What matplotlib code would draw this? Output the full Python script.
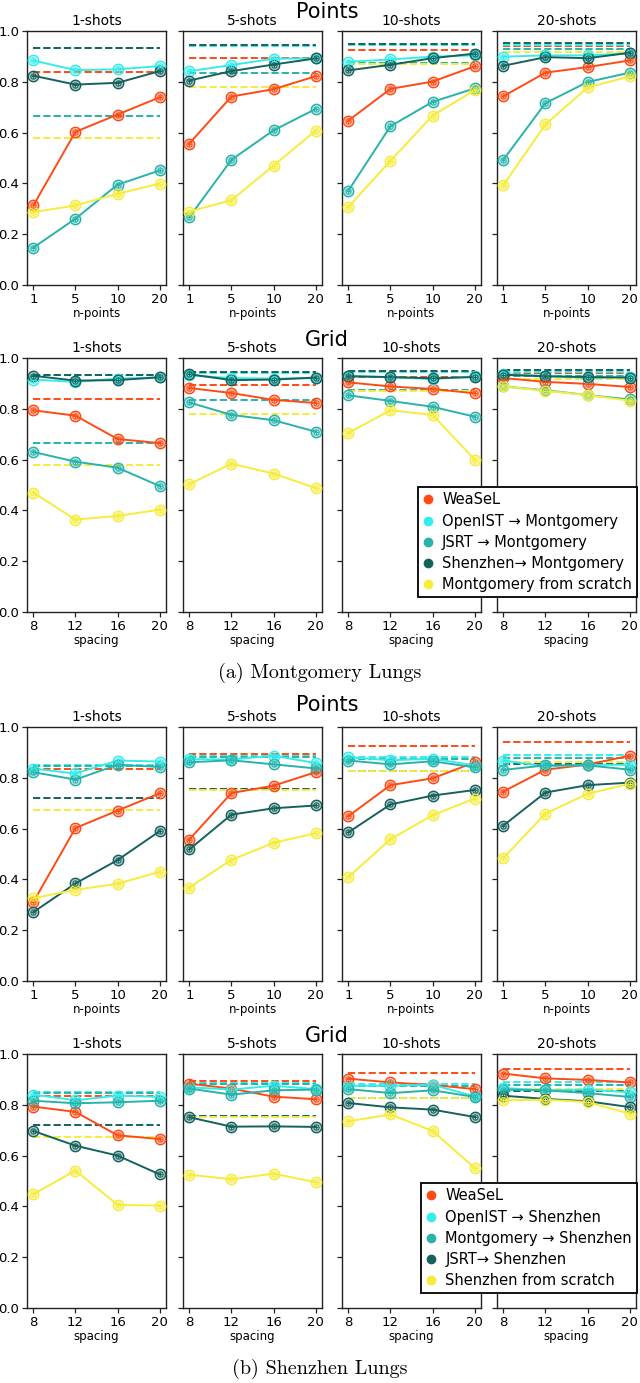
import matplotlib
matplotlib.use("Agg")
import matplotlib.pyplot as plt
from matplotlib.colors import to_rgba
from matplotlib.lines import Line2D

# x categories
POINT_TICKS = ["1", "5", "10", "20"]
GRID_TICKS = ["8", "12", "16", "20"]
SHOTS = ["1-shots", "5-shots", "10-shots", "20-shots"]

# colours (legend order)
C_WEASEL = "#ff4a14"
C_OPENIST = "#36ecea"
C_MID = "#27b3ab"
C_DARK = "#15625c"
C_SCRATCH = "#f6ec3a"

MONT_LABELS = ["WeaSeL", "OpenIST → Montgomery", "JSRT → Montgomery",
               "Shenzhen→ Montgomery", "Montgomery from scratch"]
SHEN_LABELS = ["WeaSeL", "OpenIST → Shenzhen", "Montgomery → Shenzhen",
               "JSRT→ Shenzhen", "Shenzhen from scratch"]

# ---- Montgomery, points (one row per shot setting) ----
MP_WEASEL = [[0.313, 0.603, 0.671, 0.739], [0.557, 0.742, 0.771, 0.822],
             [0.647, 0.772, 0.801, 0.861], [0.743, 0.836, 0.858, 0.884]]
MP_OPENIST = [[0.884, 0.846, 0.849, 0.862], [0.842, 0.866, 0.891, 0.892],
              [0.879, 0.888, 0.899, 0.904], [0.899, 0.904, 0.904, 0.912]]
MP_JSRT = [[0.147, 0.261, 0.395, 0.451], [0.267, 0.493, 0.609, 0.693],
           [0.371, 0.625, 0.721, 0.774], [0.493, 0.716, 0.799, 0.836]]
MP_SHENZHEN = [[0.824, 0.789, 0.796, 0.842], [0.805, 0.842, 0.868, 0.892],
               [0.845, 0.867, 0.893, 0.911], [0.863, 0.897, 0.893, 0.914]]
MP_SCRATCH = [[0.287, 0.313, 0.359, 0.399], [0.289, 0.334, 0.470, 0.608],
              [0.307, 0.489, 0.667, 0.767], [0.393, 0.632, 0.778, 0.821]]

# ---- Montgomery, grid ----
MG_WEASEL = [[0.794, 0.773, 0.681, 0.665], [0.882, 0.862, 0.835, 0.823],
             [0.904, 0.888, 0.878, 0.861], [0.921, 0.906, 0.898, 0.886]]
MG_OPENIST = [[0.915, 0.906, 0.919, 0.924], [0.932, 0.921, 0.919, 0.921],
              [0.930, 0.924, 0.917, 0.928], [0.937, 0.930, 0.921, 0.925]]
MG_JSRT = [[0.630, 0.592, 0.568, 0.496], [0.825, 0.776, 0.755, 0.710],
           [0.853, 0.831, 0.808, 0.769], [0.888, 0.873, 0.854, 0.837]]
MG_SHENZHEN = [[0.930, 0.911, 0.913, 0.924], [0.936, 0.913, 0.915, 0.923],
               [0.928, 0.925, 0.920, 0.925], [0.934, 0.928, 0.925, 0.923]]
MG_SCRATCH = [[0.470, 0.364, 0.378, 0.403], [0.503, 0.584, 0.545, 0.488],
              [0.705, 0.794, 0.776, 0.600], [0.888, 0.871, 0.854, 0.832]]

# Montgomery reference (dashed) per shot setting
MD_WEASEL = [0.838, 0.895, 0.925, 0.941]
MD_OPENIST = [0.932, 0.942, 0.944, 0.946]
MD_JSRT = [0.666, 0.834, 0.873, 0.928]
MD_SHENZHEN = [0.935, 0.945, 0.947, 0.951]
MD_SCRATCH = [0.578, 0.781, 0.869, 0.917]

# ---- Shenzhen, points ----
SP_WEASEL = [[0.311, 0.602, 0.671, 0.739], [0.557, 0.740, 0.769, 0.822],
             [0.649, 0.771, 0.798, 0.861], [0.746, 0.832, 0.852, 0.887]]
SP_OPENIST = [[0.836, 0.817, 0.868, 0.864], [0.874, 0.872, 0.887, 0.858],
              [0.881, 0.869, 0.875, 0.849], [0.868, 0.845, 0.851, 0.851]]
SP_MONT = [[0.822, 0.793, 0.851, 0.843], [0.861, 0.869, 0.853, 0.837],
           [0.868, 0.853, 0.865, 0.841], [0.831, 0.849, 0.849, 0.832]]
SP_JSRT = [[0.271, 0.384, 0.476, 0.590], [0.518, 0.655, 0.680, 0.691],
           [0.585, 0.695, 0.730, 0.752], [0.612, 0.742, 0.771, 0.781]]
SP_SCRATCH = [[0.326, 0.359, 0.383, 0.430], [0.368, 0.477, 0.544, 0.582],
              [0.409, 0.558, 0.653, 0.718], [0.484, 0.659, 0.737, 0.776]]

# ---- Shenzhen, grid ----
SG_WEASEL = [[0.793, 0.772, 0.680, 0.665], [0.883, 0.864, 0.832, 0.822],
             [0.903, 0.888, 0.878, 0.862], [0.923, 0.904, 0.898, 0.888]]
SG_OPENIST = [[0.840, 0.818, 0.836, 0.831], [0.869, 0.860, 0.875, 0.862],
              [0.875, 0.875, 0.879, 0.833], [0.866, 0.857, 0.860, 0.849]]
SG_MONT = [[0.816, 0.806, 0.810, 0.816], [0.864, 0.840, 0.857, 0.860],
           [0.862, 0.846, 0.857, 0.831], [0.860, 0.857, 0.846, 0.831]]
SG_JSRT = [[0.697, 0.639, 0.600, 0.526], [0.751, 0.714, 0.715, 0.713],
           [0.807, 0.790, 0.781, 0.752], [0.836, 0.823, 0.814, 0.791]]
SG_SCRATCH = [[0.448, 0.541, 0.406, 0.403], [0.525, 0.507, 0.529, 0.495],
              [0.735, 0.762, 0.697, 0.551], [0.818, 0.820, 0.811, 0.765]]

# Shenzhen reference (dashed)
SD_WEASEL = [0.836, 0.895, 0.924, 0.940]
SD_OPENIST = [0.852, 0.887, 0.881, 0.890]
SD_MONT = [0.848, 0.883, 0.875, 0.878]
SD_JSRT = [0.721, 0.754, 0.826, 0.856]
SD_SCRATCH = [0.672, 0.752, 0.826, 0.861]

COLORS = [C_WEASEL, C_OPENIST, C_MID, C_DARK, C_SCRATCH]

W, H = 640, 1383
fig = plt.figure(figsize=(W / 100, H / 100), dpi=100)

COL_LEFT = [27, 183, 342, 497]
AX_W = 139
ROW_TOP = [31, 358, 727, 1054]
AX_H = 254


def add_row(row, series, dashed, ticks, xlabel, labels=None):
    axes = []
    for k in range(4):
        ax = fig.add_axes([COL_LEFT[k] / W, 1 - (ROW_TOP[row] + AX_H) / H,
                           AX_W / W, AX_H / H])
        xs = list(range(len(ticks)))
        for s, d, c in zip(series, dashed, COLORS):
            ax.plot([xs[0], xs[-1]], [d[k], d[k]], ls="--", lw=1.4, color=c, zorder=2)
        for s, c in zip(series, COLORS):
            ax.plot(xs, s[k], color=c, lw=1.4, marker="o", ms=7.5,
                    mfc=to_rgba(c, 0.35), mec=c, mew=1.0, zorder=3)
            ax.plot(xs, s[k], ls="none", marker="o", ms=3.8, mfc="none",
                    mec=c, mew=0.7, zorder=4)
            ax.plot(xs, s[k], ls="none", marker="+", ms=3.5, color=c,
                    mew=0.7, zorder=4)
        ax.set_ylim(0, 1.0)
        ax.set_yticks([0, 0.2, 0.4, 0.6, 0.8, 1.0])
        if k == 0:
            ax.set_yticklabels(["0.0", "0.2", "0.4", "0.6", "0.8", "1.0"])
        else:
            ax.set_yticklabels([])
        ax.set_xticks(xs)
        ax.set_xticklabels(ticks)
        ax.set_xlabel(xlabel, fontsize=8.5, labelpad=1)
        ax.set_title(SHOTS[k], fontsize=10, pad=4)
        ax.tick_params(labelsize=9.5, length=3.5, width=0.9, pad=2, color="#222222")
        for sp in ax.spines.values():
            sp.set_color("#222222")
            sp.set_linewidth(1.0)
        axes.append(ax)
    if labels is not None:
        handles = [Line2D([], [], ls="none", marker="o", ms=6, color=c) for c in COLORS]
        leg = axes[3].legend(handles, labels, loc="lower right",
                             bbox_to_anchor=(1.06, 0.03), fontsize=10.5,
                             handlelength=0.7, handletextpad=0.6,
                             borderpad=0.35, labelspacing=0.42,
                             fancybox=False, framealpha=1, edgecolor="black")
        leg.get_frame().set_linewidth(1.3)
        leg.set_zorder(10)
    return axes


add_row(0, [MP_WEASEL, MP_OPENIST, MP_JSRT, MP_SHENZHEN, MP_SCRATCH],
        [MD_WEASEL, MD_OPENIST, MD_JSRT, MD_SHENZHEN, MD_SCRATCH],
        POINT_TICKS, "n-points")
add_row(1, [MG_WEASEL, MG_OPENIST, MG_JSRT, MG_SHENZHEN, MG_SCRATCH],
        [MD_WEASEL, MD_OPENIST, MD_JSRT, MD_SHENZHEN, MD_SCRATCH],
        GRID_TICKS, "spacing", MONT_LABELS)
add_row(2, [SP_WEASEL, SP_OPENIST, SP_MONT, SP_JSRT, SP_SCRATCH],
        [SD_WEASEL, SD_OPENIST, SD_MONT, SD_JSRT, SD_SCRATCH],
        POINT_TICKS, "n-points")
add_row(3, [SG_WEASEL, SG_OPENIST, SG_MONT, SG_JSRT, SG_SCRATCH],
        [SD_WEASEL, SD_OPENIST, SD_MONT, SD_JSRT, SD_SCRATCH],
        GRID_TICKS, "spacing", SHEN_LABELS)

# row titles and captions
for txt, ypx in [("Points", 11.5), ("Grid", 340), ("Points", 705), ("Grid", 1036)]:
    fig.text(327 / W, 1 - ypx / H, txt, fontsize=15, ha="center", va="center")
for txt, ypx in [("(a) Montgomery Lungs", 673), ("(b) Shenzhen Lungs", 1369)]:
    fig.text(320 / W, 1 - ypx / H, txt, fontsize=14.5, family="cmr10",
             ha="center", va="center")

fig.savefig("out.png", dpi=100)
